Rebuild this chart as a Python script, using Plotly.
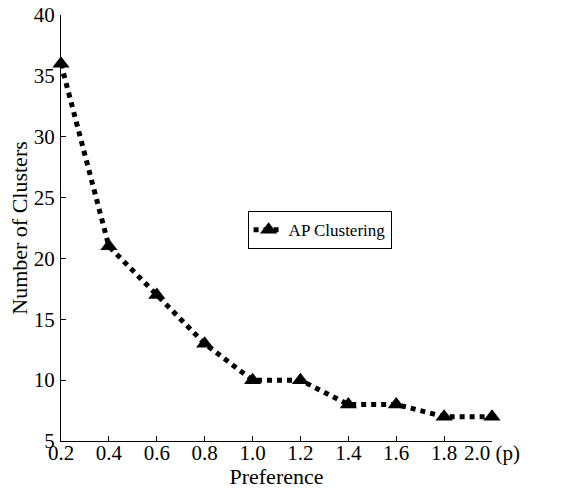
import plotly.graph_objects as go

preference = [0.2, 0.4, 0.6, 0.8, 1.0, 1.2, 1.4, 1.6, 1.8, 2.0]
clusters = [36, 21, 17, 13, 10, 10, 8, 8, 7, 7]
x_tick_vals = [0.2, 0.4, 0.6, 0.8, 1.0, 1.2, 1.4, 1.6, 1.8, 2.0]
x_tick_text = ["0.2", "0.4", "0.6", "0.8", "1.0", "1.2", "1.4", "1.6", "1.8", "2.0 (p)"]
y_tick_vals = [5, 10, 15, 20, 25, 30, 35, 40]

font = "Liberation Serif, Times New Roman, serif"

fig = go.Figure()
fig.add_trace(go.Scatter(
    x=preference, y=clusters, mode="lines+markers", name="AP Clustering",
    line=dict(color="black", width=5, dash="dot"),
    marker=dict(symbol="triangle-up", size=15, color="black"),
    cliponaxis=False,
))

fig.update_layout(
    width=561, height=489,
    margin=dict(l=61, r=69, t=15, b=48),
    paper_bgcolor="white", plot_bgcolor="white",
    font=dict(family=font, size=17, color="black"),
    showlegend=True,
    legend=dict(x=0.6, y=0.495, xanchor="center", yanchor="middle",
                bordercolor="black", borderwidth=1, bgcolor="white",
                font=dict(family=font, size=17), itemwidth=30,
                tracegroupgap=0),
    xaxis=dict(range=[0.2, 2.0], tickvals=x_tick_vals, ticktext=x_tick_text,
               automargin=False,
               showline=True, linecolor="black", linewidth=1, mirror=False,
               ticks="inside", ticklen=5, tickcolor="black", showgrid=False,
               zeroline=False, tickfont=dict(family=font, size=21),
               ticklabelstandoff=-7,
               title=dict(text="Preference", font=dict(family=font, size=22), standoff=9)),
    yaxis=dict(range=[5, 40], tickvals=y_tick_vals,
               automargin=False,
               showline=True, linecolor="black", linewidth=1, mirror=False,
               ticks="inside", ticklen=5, tickcolor="black", showgrid=False,
               zeroline=False, tickfont=dict(family=font, size=21),
               ticklabelstandoff=1,
               title=dict(text="Number of Clusters", font=dict(family=font, size=22), standoff=0)),
)

fig.write_html("out.html", config={"displayModeBar": False},
               post_script="document.body.style.margin='0';document.body.style.overflow='hidden';")
